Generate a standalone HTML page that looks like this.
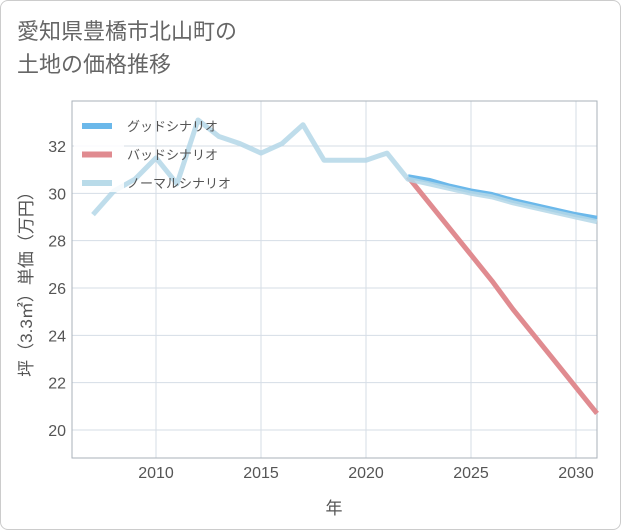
<!DOCTYPE html>
<html><head><meta charset="utf-8"><style>
body{margin:0;background:#fff;}
#card{position:absolute;left:0;top:0;width:619px;height:528px;border:1px solid #ccc;border-radius:8px;background:#fff;font-family:"Liberation Sans","Noto Sans CJK JP",sans-serif;}
#title{position:absolute;left:16px;top:14px;font-size:22px;line-height:33px;color:#666;}
</style></head><body>
<div id="card">
<div id="title">愛知県豊橋市北山町の<br>土地の価格推移</div>
<svg id="chart" width="621" height="530" style="position:absolute;left:-1px;top:-1px"></svg>
</div>
<script>
const years=[2007,2008,2009,2010,2011,2012,2013,2014,2015,2016,2017,2018,2019,2020,2021,2022];
const normal=[29.1,30.1,30.6,31.5,30.4,33.1,32.4,32.1,31.7,32.1,32.9,31.4,31.4,31.4,31.7,30.6];
const futureYears=[2022,2023,2024,2025,2026,2027,2028,2029,2030,2031];
const good=[30.7,30.55,30.3,30.1,29.95,29.7,29.5,29.3,29.1,28.95];
const bad=[30.7,29.6,28.5,27.4,26.3,25.1,24.0,22.9,21.8,20.7];
const normalFuture=[30.6,30.4,30.2,30.0,29.85,29.6,29.4,29.2,29.0,28.8];
const xTicks=[2010,2015,2020,2025,2030];
const yTicks=[20,22,24,26,28,30,32];
const L=72,R=597,T=101,B=458;
const x=v=>156+(v-2010)*21;
const y=v=>146+(32-v)*(284/12);
const svg=document.getElementById('chart');
const NS='http://www.w3.org/2000/svg';
function mk(t,a){const e=document.createElementNS(NS,t);for(const k in a)e.setAttribute(k,a[k]);svg.appendChild(e);return e;}
for(const t of xTicks){const l=mk('line',{x1:x(t),x2:x(t),y1:T,y2:B,stroke:'#d5dde6','stroke-width':1});


const tx=mk('text',{x:x(t),y:478,'text-anchor':'middle','font-size':16,fill:'#555'});tx.textContent=t;

}
for(const t of yTicks){const l=mk('line',{x1:L,x2:R,y1:y(t),y2:y(t),stroke:'#d5dde6','stroke-width':1});


const tx=mk('text',{x:66,y:y(t)+6,'text-anchor':'end','font-size':16,fill:'#555'});tx.textContent=t;

}
const frame=mk('rect',{x:L,y:T,width:R-L,height:B-T,fill:'none',stroke:'#aab2ba','stroke-width':1});


function line(xs,ys,color,w,name){const p=mk('polyline',{points:xs.map((v,i)=>x(v)+','+y(ys[i])).join(' '),fill:'none',stroke:color,'stroke-width':w,'stroke-linejoin':'round'});

}
line(futureYears,bad,'#e08b90',5,'bad-scenario-line');
line(futureYears,good,'#6bb8ea',5,'good-scenario-line');
line(years.concat(futureYears.slice(1)),normal.concat(normalFuture.slice(1)),'rgba(180,215,232,0.85)',5,'normal-scenario-line');
const lg=mk('rect',{x:74,y:112,width:50,height:80,fill:'rgba(255,255,255,0.85)'});


const legend=[['グッドシナリオ','#6bb8ea'],['バッドシナリオ','#e08b90'],['ノーマルシナリオ','#b9dbe9']];
legend.forEach((d,i)=>{const yy=126+i*28.5;
const s=mk('line',{x1:82,x2:112,y1:yy,y2:yy,stroke:d[1],'stroke-width':6});


const t=mk('text',{x:127,y:yy+5,'font-size':13,fill:'#555'});t.textContent=d[0];

});
const xt=mk('text',{x:334,y:514,'text-anchor':'middle','font-size':17,fill:'#555'});xt.textContent='年';


const yt=mk('text',{x:0,y:0,'text-anchor':'middle','font-size':17,fill:'#555',transform:'translate(32,280) rotate(-90)'});yt.textContent='坪（3.3㎡）単価（万円）';


</script>
</body></html>
